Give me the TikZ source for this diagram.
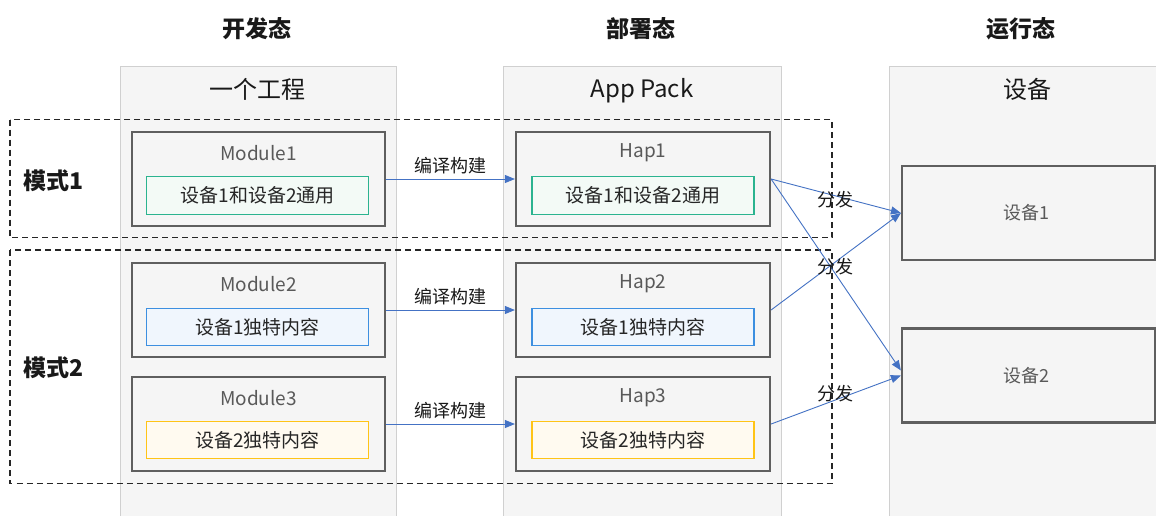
\documentclass[tikz,border=0pt]{standalone}
\usepackage{fontspec}
\setmainfont{Noto Sans CJK SC}
\usetikzlibrary{arrows.meta,calc}
\definecolor{colbg}{HTML}{F5F5F5}
\definecolor{colline}{HTML}{D0D0D0}
\definecolor{boxline}{HTML}{5F5F5F}
\definecolor{txtgray}{HTML}{595959}
\definecolor{arrowblue}{HTML}{4472C4}
\definecolor{greenline}{HTML}{2BB38F}
\definecolor{greenfill}{HTML}{F3FAF6}
\definecolor{blueline}{HTML}{3D8FE0}
\definecolor{bluefill}{HTML}{F0F6FD}
\definecolor{yellowline}{HTML}{FFC417}
\definecolor{yellowfill}{HTML}{FFFAF0}
\definecolor{dashcol}{HTML}{262626}
\tikzset{
  column/.style={fill=colbg, draw=colline, line width=0.8pt},
  modbox/.style={draw=boxline, fill=colbg, line width=2.2pt, minimum width=253pt, minimum height=94pt, inner sep=0pt},
  devbox/.style={draw=boxline, fill=colbg, line width=2.2pt, minimum width=253pt, minimum height=94pt, inner sep=0pt},
  inbox/.style={line width=1.3pt, minimum width=222pt, minimum height=37.5pt, inner sep=0pt, font=\fontsize{19}{21}\selectfont, text=black!85},
  greenbox/.style={inbox, draw=greenline, fill=greenfill},
  bluebox/.style={inbox, draw=blueline, fill=bluefill},
  yellowbox/.style={inbox, draw=yellowline, fill=yellowfill},
  modlabel/.style={font=\fontsize{19}{21}\selectfont, text=txtgray, inner sep=0pt},
  devlabel/.style={font=\fontsize{18}{20}\selectfont, text=txtgray, inner sep=0pt},
  heading/.style={font=\bfseries\fontsize{23}{26}\selectfont, text=black!90, inner sep=0pt},
  colhead/.style={font=\fontsize{24}{27}\selectfont, text=black!90, inner sep=0pt},
  modetext/.style={font=\bfseries\fontsize{23}{26}\selectfont, text=black!90, inner sep=0pt},
  edgelabel/.style={font=\fontsize{18}{20}\selectfont, text=black!90, inner sep=0pt},
  modeframe/.style={draw=dashcol, line width=1.5pt, dash pattern=on 6pt off 4pt},
  conn/.style={draw=arrowblue, line width=0.9pt, -{Triangle[length=10pt,width=8pt]}},
}
\begin{document}
\begin{tikzpicture}[x=1pt,y=-1pt]
\useasboundingbox (0,0) rectangle (1156,515);
\fill[white] (0,0) rectangle (1156,515);
% columns
\draw[column] (120,66) rectangle (396,530);
\draw[column] (503,66) rectangle (781,530);
\draw[column] (889,66) rectangle (1170,530);
% headings
\node[heading] (h1) at (257,29) {开发态};
\node[heading] (h2) at (641,29) {部署态};
\node[heading] (h3) at (1021,29) {运行态};
\node[colhead] (c1) at (257,89) {一个工程};
\node[colhead] (c2) at (642,91) {App Pack};
\node[colhead] (c3) at (1027,89) {设备};
% mode frames
\draw[modeframe] (10,119.5) rectangle (832,237.5);
\draw[modeframe] (10,250) rectangle (832,483.5);
\node[modetext] (mode1) at (54,181) {模式1};
\node[modetext] (mode2) at (54,368) {模式2};
% modules
\node[modbox] (m1) at (258.5,179) {};
\node[modbox] (m2) at (258.5,310) {};
\node[modbox] (m3) at (258.5,424) {};
\node[modlabel] (m1l) at (258.5,153) {Module1};
\node[modlabel] (m2l) at (258.5,284) {Module2};
\node[modlabel] (m3l) at (258.5,398) {Module3};
\node[greenbox] (m1i) at (257.7,195.5) {设备1和设备2通用};
\node[bluebox] (m2i) at (257.7,327) {设备1独特内容};
\node[yellowbox] (m3i) at (257.7,440) {设备2独特内容};
% haps
\node[modbox,minimum width=254pt] (p1) at (643,179) {};
\node[modbox,minimum width=254pt] (p2) at (643,310) {};
\node[modbox,minimum width=254pt] (p3) at (643,424) {};
\node[modlabel] (p1l) at (643,153) {Hap1};
\node[modlabel] (p2l) at (643,284) {Hap2};
\node[modlabel] (p3l) at (643,398) {Hap3};
\node[greenbox] (p1i) at (643,195.5) {设备1和设备2通用};
\node[bluebox] (p2i) at (643,327) {设备1独特内容};
\node[yellowbox] (p3i) at (643,440) {设备2独特内容};
% devices
\node[devbox] (d1) at (1028.5,213) {};
\node[devbox] (d2) at (1028.5,375.5) {};
\node[devlabel] (d1l) at (1026,213) {设备1};
\node[devlabel] (d2l) at (1026,376) {设备2};
% build arrows
\draw[conn] (m1.east) -- (p1.west);
\draw[conn] (m2.east) -- (p2.west);
\draw[conn] (m3.east) -- (p3.west);
\node[edgelabel] (b1) at (450,166) {编译构建};
\node[edgelabel] (b2) at (450,297) {编译构建};
\node[edgelabel] (b3) at (450,411) {编译构建};
% distribute arrows
\draw[conn] (p1.east) -- (d1.west);
\draw[conn] (p1.east) -- ([yshift=5pt]d2.west);
\draw[conn] (p2.east) -- (d1.west);
\draw[conn] (p3.east) -- (d2.west);
\node[edgelabel] (f1) at (835,200) {分发};
\node[edgelabel] (f2) at (835,267) {分发};
\node[edgelabel] (f3) at (835,394) {分发};
\end{tikzpicture}
\end{document}
